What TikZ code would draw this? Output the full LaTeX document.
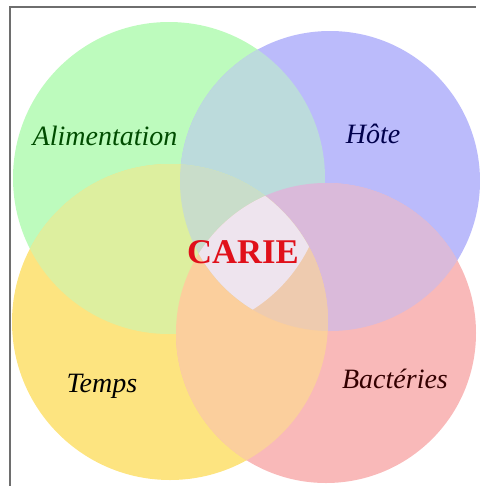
\documentclass[tikz,border=0pt]{standalone}
\usepackage{fontspec}
\setmainfont{Liberation Serif}
\usepackage{tikz}
\usetikzlibrary{positioning}
\definecolor{FoodGreen}{HTML}{BDFBBD}
\definecolor{HostBlue}{HTML}{BBBBFB}
\definecolor{TimeYellow}{HTML}{FDE480}
\definecolor{GermRed}{HTML}{F9B9B9}
\definecolor{CentrePale}{HTML}{EEE4EE}
\definecolor{FrameGray}{HTML}{6E6E6E}
\definecolor{CarieRed}{HTML}{E0101A}
% circle paths of the four factors
\newcommand{\zonefood}{(169,178) circle (156)}
\newcommand{\zonehost}{(330,181) circle (150)}
\newcommand{\zonetime}{(170,322) circle (158)}
\newcommand{\zonegerm}{(326,333) circle (150)}

\begin{document}
\begin{tikzpicture}[
    x=0.75pt, y=-0.75pt,
    facteur/.style={anchor=base, font=\fontsize{21}{24}\selectfont\itshape},
    centre/.style={anchor=base, font=\fontsize{26}{30}\selectfont\bfseries, text=CarieRed}
]
    \useasboundingbox (0,0) rectangle (479,486);

    % Frame (left and top edges)
    \coordinate (fbl) at (10,486);
    \coordinate (ftl) at (10,7);
    \coordinate (ftr) at (476,7);
    \draw[FrameGray, line width=0.8pt] (fbl) -- (ftl) -- (ftr);

    % Four factors
    \fill[FoodGreen] \zonefood;
    \fill[HostBlue] \zonehost;
    \fill[TimeYellow] \zonetime;
    \fill[GermRed] \zonegerm;

    % Overlaps: mixed colours
    \begin{scope}
        \clip \zonefood; \fill[FoodGreen!50!HostBlue] \zonehost;
    \end{scope}
    \begin{scope}
        \clip \zonefood; \fill[FoodGreen!50!TimeYellow] \zonetime;
    \end{scope}
    \begin{scope}
        \clip \zonehost; \fill[HostBlue!50!GermRed] \zonegerm;
    \end{scope}
    \begin{scope}
        \clip \zonetime; \fill[TimeYellow!50!GermRed] \zonegerm;
    \end{scope}
    \begin{scope}
        \clip \zonefood; \clip \zonehost; \fill[FoodGreen!50!HostBlue!80!TimeYellow] \zonetime;
    \end{scope}
    \begin{scope}
        \clip \zonetime; \clip \zonegerm; \fill[TimeYellow!50!GermRed!80!HostBlue] \zonehost;
    \end{scope}

    % Pale common zone
    \begin{scope}
        \clip \zonefood; \clip \zonehost; \clip \zonetime;
        \fill[CentrePale] \zonegerm;
    \end{scope}

    % Labels
    \node[facteur, text=green!30!black] (aliment) at (105,145) {Alimentation};
    \node[facteur, text=blue!30!black] (hote) at (373,143) {Hôte};
    \node[facteur, text=black] (temps) at (102,392) {Temps};
    \node[facteur, text=red!20!black] (bacteries) at (395,388) {Bactéries};

    \node[centre] (carie) at (243,263) {CARIE};
\end{tikzpicture}
\end{document}
